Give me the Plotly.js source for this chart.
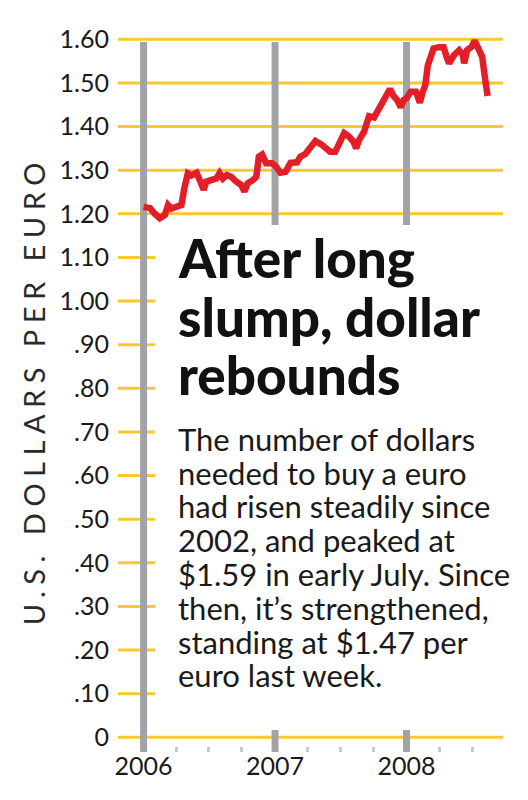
<!DOCTYPE html>
<html>
<head>
<meta charset="utf-8">
<script src="https://cdn.plot.ly/plotly-3.0.1.min.js"></script>
<style>
html,body{margin:0;padding:0;background:#fff;}
#chart{width:528px;height:800px;}
</style>
</head>
<body>
<div id="chart"></div>
<script>
// ---- data ----
const dates = [
'2006-01-01','2006-01-19','2006-02-01','2006-02-15','2006-03-01','2006-03-10','2006-03-19','2006-04-02',
'2006-04-16','2006-04-25','2006-05-04','2006-05-14','2006-05-28','2006-06-06','2006-06-17','2006-06-24',
'2006-07-08','2006-07-22','2006-07-31','2006-08-09','2006-08-20','2006-09-01','2006-09-15','2006-09-29',
'2006-10-08','2006-10-17','2006-10-31','2006-11-10','2006-11-17','2006-11-26','2006-12-07','2006-12-23',
'2007-01-02','2007-01-16','2007-01-30','2007-02-13','2007-03-03','2007-03-12','2007-03-26','2007-04-09',
'2007-04-23','2007-05-11','2007-06-03','2007-06-17','2007-07-01','2007-07-12','2007-07-24','2007-08-07',
'2007-08-14','2007-08-22','2007-09-05','2007-09-19','2007-10-03','2007-10-18','2007-10-29','2007-11-16',
'2007-11-26','2007-12-05','2007-12-16','2007-12-24','2008-01-01','2008-01-13','2008-01-27','2008-02-07',
'2008-02-15','2008-02-22','2008-02-29','2008-03-09','2008-03-16','2008-03-30','2008-04-13','2008-04-21',
'2008-04-28','2008-05-12','2008-05-26','2008-06-05','2008-06-09','2008-06-17','2008-06-30','2008-07-08',
'2008-07-18','2008-07-29','2008-08-06','2008-08-13'
];
const usdPerEuro = [
1.216,1.213,1.200,1.190,1.197,1.220,1.212,1.216,
1.220,1.262,1.293,1.288,1.294,1.277,1.255,1.274,
1.277,1.281,1.293,1.281,1.289,1.285,1.274,1.266,
1.251,1.270,1.277,1.285,1.331,1.336,1.316,1.316,
1.310,1.294,1.296,1.317,1.318,1.331,1.337,1.354,
1.367,1.358,1.342,1.342,1.367,1.385,1.378,1.365,
1.350,1.369,1.388,1.424,1.421,1.441,1.461,1.486,
1.470,1.462,1.444,1.461,1.465,1.480,1.480,1.455,
1.480,1.495,1.540,1.565,1.579,1.582,1.582,1.560,
1.545,1.564,1.575,1.565,1.545,1.575,1.583,1.597,
1.580,1.560,1.510,1.470
];
const yTickVals = [0,0.1,0.2,0.3,0.4,0.5,0.6,0.7,0.8,0.9,1.0,1.1,1.2,1.3,1.4,1.5,1.6];
const yTickText = ['0','.10','.20','.30','.40','.50','.60','.70','.80','.90','1.00','1.10','1.20','1.30','1.40','1.50','1.60'];
const yearLines = ['2006-01-01','2007-01-01','2008-01-01'];
const yTitle = 'U.S. DOLLARS PER EURO';
const headlineLines = ['After long','slump, dollar','rebounds'];
const bodyLines = [
'The number of dollars',
'needed to buy a euro',
'had risen steadily since',
'2002, and peaked at',
'$1.59 in early July. Since',
'then, it\u2019s strengthened,',
'standing at $1.47 per',
'euro last week.'
];

// ---- layout geometry ----
const W = 528, H = 800;
const M = {l:118, r:25, t:30, b:48};
const plotH = H - M.t - M.b;
const plotW = W - M.l - M.r;
const Y0PX = 737.3, PX_PER_UNIT = 436.25;
const yRange = [(Y0PX - (H - M.b)) / PX_PER_UNIT, (Y0PX - M.t) / PX_PER_UNIT];
const pyToPaper = py => (H - M.b - py) / plotH;
const pxToPaper = px => (px - M.l) / plotW;

const FONT = 'Lato, "Open Sans", sans-serif';
const YELLOW = '#FDC72F';
const GRAY = '#A2A3A7';
const RED = '#E41E26';

const shapes = [];
// yellow gridlines at each y tick (lowest layer)
yTickVals.forEach(v => {
  shapes.push({type:'line', layer:'below', xref:'paper', yref:'y', x0:0, x1:1, y0:v, y1:v,
    line:{color:YELLOW, width:3}});
});
// gray year lines
yearLines.forEach(d => {
  shapes.push({type:'line', layer:'below', xref:'x', yref:'y', x0:d, x1:d,
    y0:yRange[0], y1:1.594, line:{color:GRAY, width:7}});
});
// white panel behind the text (same subplot layer, drawn after the year lines)
shapes.push({type:'rect', layer:'below', xref:'x', yref:'y',
  x0:'2006-02-01 19:00', x1:'2008-12-31', y0:0.0167, y1:1.1743, fillcolor:'#ffffff', line:{width:0}});

const annotations = [];
const headBase = [278, 337, 395];
headlineLines.forEach((t,i) => {
  const fs = 53;
  annotations.push({text:t, xref:'paper', yref:'paper', x:pxToPaper(176), xanchor:'left',
    y:pyToPaper(headBase[i] - 0.387*fs), yanchor:'middle', showarrow:false,
    font:{family:FONT, size:fs, color:'#111111', weight:900}});
});
bodyLines.forEach((t,i) => {
  const fs = 31;
  const base = 450.7 + 33.8*i;
  annotations.push({text:t, xref:'paper', yref:'paper', x:pxToPaper(176), xanchor:'left',
    y:pyToPaper(base - 0.387*fs), yanchor:'middle', showarrow:false,
    font:{family:FONT, size:fs, color:'#1a1a1a'}});
});
annotations.push({text:yTitle, xref:'paper', yref:'paper', x:pxToPaper(33.5), xanchor:'center',
  y:pyToPaper(390.5), yanchor:'middle', textangle:-90, showarrow:false,
  font:{family:FONT, size:29, color:'#2a2a2a'}});

const trace = {
  type:'scatter', mode:'lines', x:dates, y:usdPerEuro,
  line:{color:RED, width:6.5}, hoverinfo:'skip', showlegend:false
};

const layout = {
  width:W, height:H, margin:M, paper_bgcolor:'#ffffff', plot_bgcolor:'#ffffff',
  showlegend:false,
  xaxis:{type:'date', range:['2005-10-22','2008-09-24 19:00'],
    tick0:'2006-01-01', dtick:'M12', tickformat:'%Y', ticks:'', showgrid:false, zeroline:false,
    showline:false, ticklabelstandoff:-3,
    tickfont:{family:FONT, size:25, color:'#1a1a1a'},
    minor:{tick0:'2006-01-01', dtick:'M3', ticks:'inside', ticklen:5, tickwidth:3, tickcolor:'#c9c9c9', showgrid:false}
  },
  yaxis:{range:yRange, tickmode:'array', tickvals:yTickVals, ticktext:yTickText,
    showgrid:false, zeroline:false, showline:false, ticks:'',
    ticklabelstandoff:8,
    tickfont:{family:FONT, size:25, color:'#1a1a1a'}
  },
  shapes:shapes, annotations:annotations
};

Plotly.newPlot('chart', [trace], layout, {staticPlot:true, displayModeBar:false}).then(() => {
  document.querySelectorAll('.annotation-text').forEach(el => {
    if (el.textContent === yTitle) el.style.letterSpacing = '6.5px';
  });
});
</script>
</body>
</html>
